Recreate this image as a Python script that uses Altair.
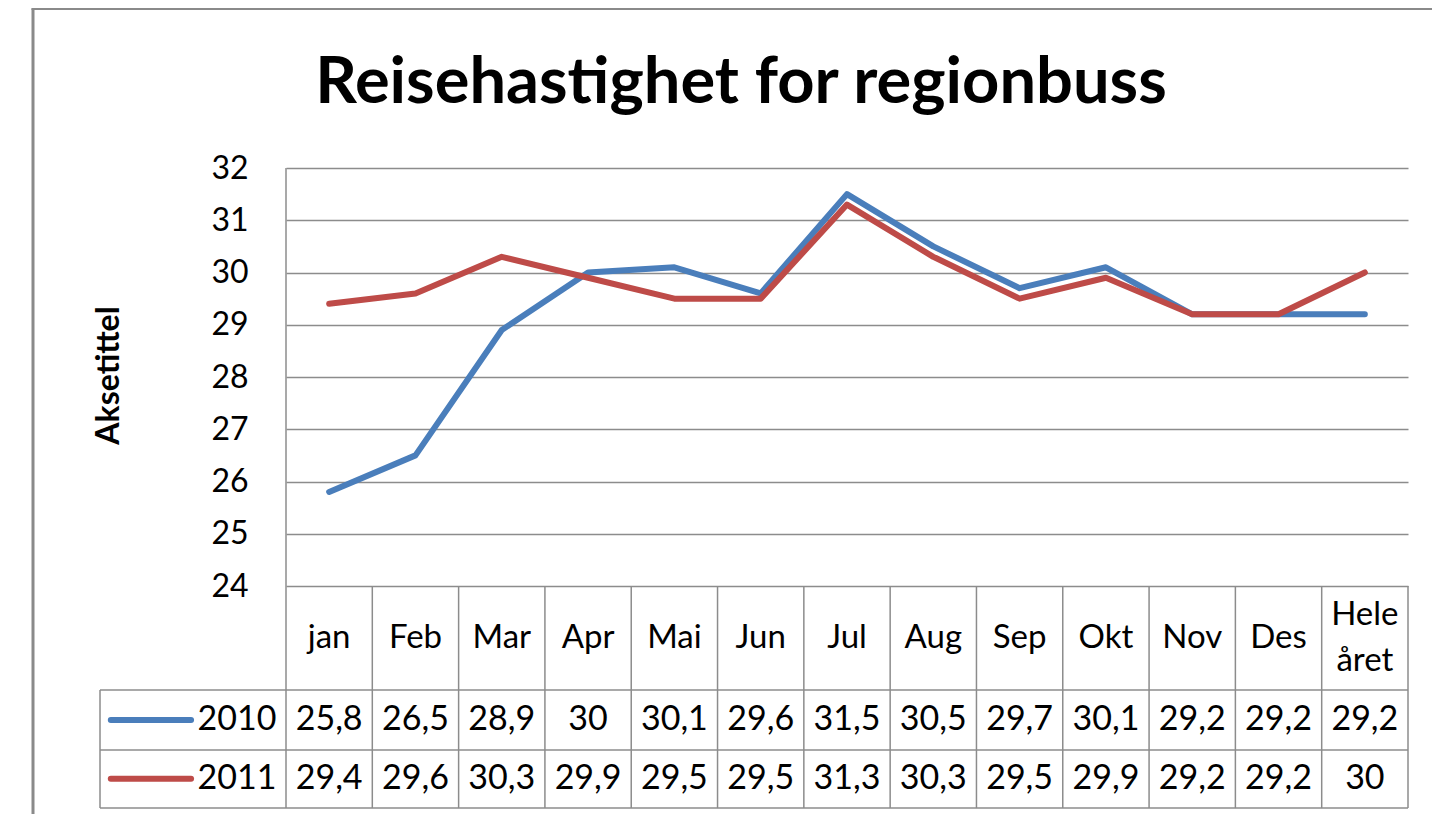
import altair as alt
import pandas as pd

# ---------------- data ----------------
categories = ["jan", "Feb", "Mar", "Apr", "Mai", "Jun", "Jul", "Aug", "Sep", "Okt", "Nov", "Des", "Hele\nåret"]
series_names = ["2010", "2011"]
values_2010 = [25.8, 26.5, 28.9, 30.0, 30.1, 29.6, 31.5, 30.5, 29.7, 30.1, 29.2, 29.2, 29.2]
values_2011 = [29.4, 29.6, 30.3, 29.9, 29.5, 29.5, 31.3, 30.3, 29.5, 29.9, 29.2, 29.2, 30.0]
y_ticks = [24, 25, 26, 27, 28, 29, 30, 31, 32]
title_text = "Reisehastighet for regionbuss"
y_title = "Aksetittel"

# ---------------- styling / layout ----------------
colors = ["#4A7EBB", "#BE4B48"]
FONT = "Lato"
GRID = "#8c8c8c"
Y_DOMAIN = [24, 32]
N = len(categories)
# table rows lie below the value axis, expressed in the same y units
HEADER_MID = 23.0
LINE_SHIFT = 0.44          # half a text line, in y units, for two-line headers
HEADER_BOTTOM = 22.01
ROW_BOTTOMS = [20.86, 19.75]
ROW_MIDS = [21.435, 20.31]
LEGEND_LEFT = -2.155
SWATCH = (-2.03, -1.10)
LABEL_RIGHT = -0.11

def fmt(v):
    return ("%g" % v).replace(".", ",")

# ---------------- frames ----------------
rows = []
for name, vals in zip(series_names, [values_2010, values_2011]):
    for i, (c, v) in enumerate(zip(categories, vals)):
        rows.append({"x": i + 0.5, "y": v, "series": name})
lines_df = pd.DataFrame(rows)

cells = []
for r, (name, vals) in enumerate(zip(series_names, [values_2010, values_2011])):
    for i, v in enumerate(vals):
        cells.append({"x": i + 0.5, "y": ROW_MIDS[r], "label": fmt(v)})
cells_df = pd.DataFrame(cells)

header_df = pd.DataFrame({
    "x": [i + 0.5 for i in range(N)],
    "y": [HEADER_MID + LINE_SHIFT * c.count("\n") for c in categories],
    "label": categories,
})

legend_df = pd.DataFrame({
    "series": series_names,
    "x": [SWATCH[0]] * 2, "x2": [SWATCH[1]] * 2,
    "xl": [LABEL_RIGHT] * 2,
    "y": ROW_MIDS,
})

vlines = [{"x": k, "y": 24, "y2": ROW_BOTTOMS[-1]} for k in range(1, N + 1)]
vlines.append({"x": 0, "y": 32, "y2": ROW_BOTTOMS[-1]})
vlines.append({"x": LEGEND_LEFT, "y": HEADER_BOTTOM, "y2": ROW_BOTTOMS[-1]})
vlines_df = pd.DataFrame(vlines)

hlines_df = pd.DataFrame({
    "y": [HEADER_BOTTOM] + ROW_BOTTOMS,
    "x": [LEGEND_LEFT] * 3,
    "x2": [N] * 3,
})

one = pd.DataFrame({"a": [0]})

xscale = alt.Scale(domain=[0, N], nice=False, zero=False)
yscale = alt.Scale(domain=Y_DOMAIN, nice=False, zero=False)
cscale = alt.Scale(domain=series_names, range=colors)

yaxis = alt.Axis(
    values=y_ticks, grid=True, gridColor=GRID, gridWidth=1.5, gridOpacity=1,
    domain=False, ticks=False, tickSize=0, labelPadding=38,
    labelFont=FONT, labelFontSize=32, labelColor="#000",
    title=y_title, titleFont=FONT, titleFontSize=32, titleFontWeight="bold",
    titleColor="#000", titleAngle=270, titleX=-178, titleY=207,
    titleAlign="center", titleBaseline="middle",
)

def X(field):
    return alt.X(field, type="quantitative", scale=xscale, axis=None)

def Y(field):
    return alt.Y(field, type="quantitative", scale=yscale, axis=yaxis)

grid_v = alt.Chart(vlines_df).mark_rule(color=GRID, strokeWidth=1.5).encode(
    x=X("x"), y=Y("y"), y2="y2:Q",
)
grid_h = alt.Chart(hlines_df).mark_rule(color=GRID, strokeWidth=1.5).encode(
    x=X("x"), x2="x2:Q", y=Y("y"),
)

lines = alt.Chart(lines_df).mark_line(strokeWidth=6, strokeJoin="round", strokeCap="round").encode(
    x=X("x"), y=Y("y"),
    color=alt.Color("series:N", scale=cscale, legend=None),
    detail="series:N",
)

header = alt.Chart(header_df).mark_text(font=FONT, fontSize=33, color="#000", lineBreak="\n", lineHeight=46,
                                        align="center", baseline="middle").encode(
    x=X("x"), y=Y("y"), text="label:N",
)

cells_t = alt.Chart(cells_df).mark_text(font=FONT, fontSize=34, color="#000", align="center", baseline="middle").encode(
    x=X("x"), y=Y("y"), text="label:N",
)

swatch = alt.Chart(legend_df).mark_rule(strokeWidth=6, strokeCap="round").encode(
    x=X("x"), x2="x2:Q", y=Y("y"),
    color=alt.Color("series:N", scale=cscale, legend=None),
)
legend_labels = alt.Chart(legend_df).mark_text(font=FONT, fontSize=34, color="#000", align="right", baseline="middle").encode(
    x=X("xl"), y=Y("y"), text="series:N",
)

title = alt.Chart(one).mark_text(font=FONT, fontSize=65, fontWeight="bold", color="#000",
                                 align="center", baseline="alphabetic").encode(
    x=alt.value(455), y=alt.value(-65), text=alt.value(title_text),
)

border_left = alt.Chart(one).mark_rule(color="#8a8a8a", strokeWidth=3).encode(
    x=alt.value(-253), y=alt.value(-159.5), y2=alt.value(700),
)
border_top = alt.Chart(one).mark_rule(color="#8a8a8a", strokeWidth=3).encode(
    x=alt.value(-254.5), x2=alt.value(1200), y=alt.value(-159.5),
)

chart = alt.layer(
    grid_v, grid_h, lines, header, cells_t, swatch, legend_labels, title, border_left, border_top
).properties(
    width=1122, height=418,
    autosize=alt.AutoSizeParams(type="none"),
    padding={"left": 278, "top": 160, "right": 24, "bottom": 228},
    background="white",
).configure_view(stroke=None)

chart.save("out.html", embed_options={"renderer": "svg", "actions": False})
